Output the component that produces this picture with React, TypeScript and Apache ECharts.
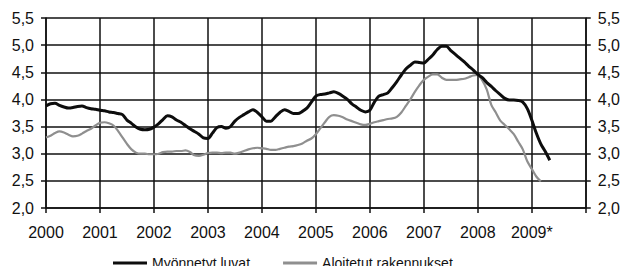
import React, { useEffect, useRef } from "react";
import * as echarts from "echarts";

const startYear = 2000;
const xTickLabels = ["2000", "2001", "2002", "2003", "2004", "2005", "2006", "2007", "2008", "2009*"];
const seriesNames = ["Myönnetyt luvat", "Aloitetut rakennukset"];

// monthly values, starting January 2000
const myonnetytLuvat = [
  3.88, 3.92, 3.93, 3.89, 3.86, 3.84, 3.85, 3.87, 3.88, 3.85, 3.83, 3.82,
  3.80, 3.79, 3.77, 3.76, 3.74, 3.72, 3.62, 3.56, 3.49, 3.45, 3.44, 3.45,
  3.49, 3.55, 3.63, 3.70, 3.68, 3.62, 3.58, 3.52, 3.46, 3.41, 3.36, 3.29,
  3.28, 3.38, 3.48, 3.50, 3.47, 3.50, 3.60, 3.67, 3.72, 3.77, 3.81, 3.76,
  3.68, 3.60, 3.60, 3.68, 3.76, 3.81, 3.78, 3.74, 3.74, 3.78, 3.84, 3.95,
  4.06, 4.09, 4.10, 4.12, 4.14, 4.11, 4.06, 4.00, 3.92, 3.86, 3.80, 3.77,
  3.80, 3.95, 4.06, 4.09, 4.12, 4.22, 4.33, 4.45, 4.56, 4.63, 4.69, 4.68,
  4.67, 4.74, 4.82, 4.92, 4.98, 4.98, 4.90, 4.83, 4.76, 4.69, 4.61, 4.54,
  4.46, 4.40, 4.31, 4.24, 4.16, 4.09, 4.02, 3.99, 3.99, 3.98, 3.95, 3.83,
  3.62, 3.38, 3.18, 3.04, 2.88,
];

const aloitetutRakennukset = [
  3.30, 3.33, 3.38, 3.41, 3.39, 3.35, 3.32, 3.33, 3.37, 3.42, 3.46, 3.52,
  3.57, 3.58, 3.56, 3.52, 3.42, 3.30, 3.18, 3.08, 3.02, 3.00, 3.00, 2.99,
  2.99, 3.00, 3.03, 3.04, 3.04, 3.05, 3.05, 3.06, 3.03, 2.97, 2.96, 2.98,
  3.01, 3.02, 3.02, 3.01, 3.02, 3.02, 3.00, 3.02, 3.05, 3.08, 3.10, 3.11,
  3.10, 3.09, 3.07, 3.07, 3.09, 3.11, 3.13, 3.14, 3.16, 3.19, 3.24, 3.28,
  3.36, 3.47, 3.58, 3.68, 3.71, 3.70, 3.67, 3.63, 3.60, 3.57, 3.54, 3.53,
  3.55, 3.58, 3.60, 3.62, 3.64, 3.65, 3.68, 3.76, 3.88, 4.00, 4.14, 4.26,
  4.36, 4.42, 4.46, 4.46, 4.40, 4.36, 4.36, 4.36, 4.37, 4.38, 4.41, 4.44,
  4.45, 4.35, 4.18, 3.90, 3.76, 3.61, 3.53, 3.45, 3.36, 3.22, 3.08, 2.86,
  2.72, 2.58, 2.49,
];

const toPairs = (arr: number[]) => arr.map((v, i) => [startYear + i / 12, v]);
const fmt = (v: number) => v.toFixed(1).replace(".", ",");
const FONT = "Liberation Sans, Arial, sans-serif";
const BLACK = "#0d0d0d";
const GRAY = "#8f8f8f";

export default function App() {
  const ref = useRef<HTMLDivElement>(null);
  useEffect(() => {
    if (!ref.current) return;
    const chart = echarts.init(ref.current, null, { renderer: "svg" });
    const yAxisBase = {
      type: "value",
      min: 2,
      max: 5.5,
      interval: 0.5,
      axisLine: { show: true, lineStyle: { color: "#111", width: 1.5 } },
      axisTick: { show: true, inside: false, length: 5, lineStyle: { color: "#111", width: 1.5 } },
      axisLabel: { formatter: fmt, color: "#111", fontSize: 16, fontFamily: FONT, margin: 12 },
    };
    chart.setOption({
      animation: false,
      backgroundColor: "#fff",
      grid: { left: 46, right: 37, top: 18, bottom: 58, containLabel: false },
      legend: {
        left: 113,
        top: 256,
        padding: 0,
        itemWidth: 34,
        itemHeight: 3,
        itemGap: 33,
        textStyle: { color: "#111", fontSize: 14, fontFamily: FONT },
        data: [
          { name: seriesNames[0], icon: "rect", itemStyle: { color: BLACK } },
          { name: seriesNames[1], icon: "rect", itemStyle: { color: GRAY } },
        ],
      },
      xAxis: {
        type: "value",
        min: 2000,
        max: 2010,
        interval: 1,
        axisLine: { show: true, lineStyle: { color: "#111", width: 1.5 } },
        axisTick: { show: true, length: 5, lineStyle: { color: "#111", width: 1.5 } },
        axisLabel: {
          color: "#111",
          fontSize: 16,
          fontFamily: FONT,
          margin: 16,
          formatter: (v: number) => xTickLabels[Math.round(v - startYear)] ?? "",
        },
        splitLine: { show: true, lineStyle: { color: "#111", width: 1.5 } },
      },
      yAxis: [
        { ...yAxisBase, position: "left", splitLine: { show: true, lineStyle: { color: "#111", width: 1.5 } } },
        { ...yAxisBase, position: "right", splitLine: { show: false } },
      ],
      series: [
        {
          name: seriesNames[0],
          type: "line",
          data: toPairs(myonnetytLuvat),
          symbol: "none",
          smooth: 0.3,
          lineStyle: { color: BLACK, width: 3 },
          itemStyle: { color: BLACK },
          z: 3,
        },
        {
          name: seriesNames[1],
          type: "line",
          data: toPairs(aloitetutRakennukset),
          symbol: "none",
          smooth: 0.3,
          lineStyle: { color: GRAY, width: 2.2 },
          itemStyle: { color: GRAY },
          z: 2,
        },
      ],
    });
    return () => chart.dispose();
  }, []);
  return (
    <div
      ref={ref}
      style={{ position: "fixed", left: 0, top: 0, width: 623, height: 266, background: "#fff" }}
    />
  );
}
